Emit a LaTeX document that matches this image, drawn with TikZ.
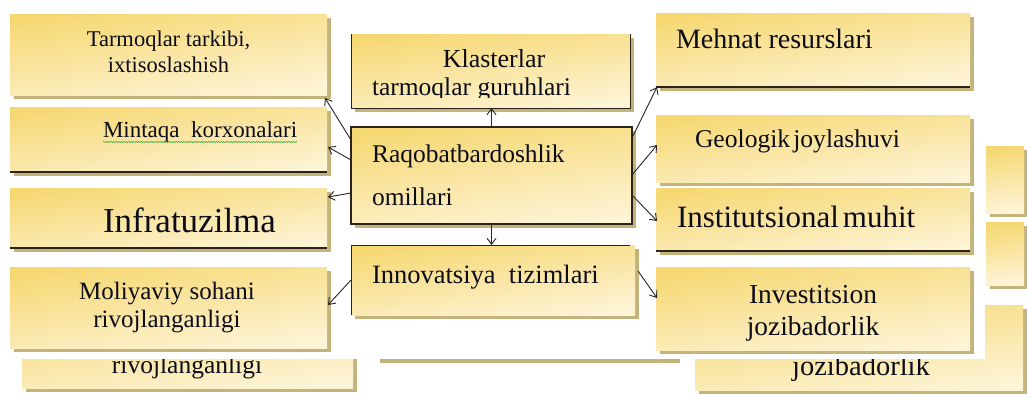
\documentclass[tikz,border=0pt]{standalone}
\usepackage{fontspec}
\setmainfont{Liberation Serif}
\usetikzlibrary{arrows.meta,decorations.pathmorphing,calc,shadows}
\definecolor{gA}{HTML}{F6D873}
\definecolor{cA}{HTML}{FDF4D6}
\definecolor{shd}{HTML}{C4B47C}
\definecolor{edgec}{HTML}{2A2518}
\definecolor{txt}{HTML}{0D0D1A}
\newcommand\myfs[1]{\fontsize{#1}{#1}\selectfont}
\begin{document}
\begin{tikzpicture}[x=1pt,y=-1pt,
  box/.style={anchor=north west, inner sep=0pt, outer sep=0pt, draw=none,
    top color=gA, bottom color=cA, shading angle=8,
    drop shadow={shadow xshift=4pt, shadow yshift=-4pt, fill=shd, opacity=1}},
  lbl/.style={inner sep=0pt, outer sep=0pt, text=txt},
  edgeline/.style={draw=edgec, line width=1.3pt},
  arr/.style={-{Straight Barb[length=6pt,width=9pt]}, line width=0.9pt, draw=black!85}]
\useasboundingbox (0,0) rectangle (1027,394);
\fill[white] (0,0) rectangle (1027,394);
% ---- back layer ----
\node[box, minimum width=331pt, minimum height=88pt] (bl) at (22,300) {};
\node[box, minimum width=328pt, minimum height=85pt] (br) at (695,305) {};
\node[box, minimum width=38pt, minimum height=67pt] (br1) at (986,146) {};
\node[box, minimum width=38pt, minimum height=63pt] (br2) at (986,222) {};
\node[lbl, anchor=base, font=\myfs{25.5}] (bltxt) at (187,373) {rivojlanganligi};
\node[lbl, anchor=base, font=\myfs{28.5}] (brtxt) at (861,375) {jozibadorlik};
\fill[shd] (380,359) rectangle (680,363);
% ---- white overlay ----
\fill[white] (0,0) rectangle (985,359);
% ---- front boxes ----
\node[box, minimum width=317pt, minimum height=81pt] (tar) at (10,14) {};
\node[box, minimum width=317pt, minimum height=65pt] (min) at (10,107) {};
\node[box, minimum width=317pt, minimum height=60pt] (inf) at (10,188) {};
\node[box, minimum width=317pt, minimum height=81pt] (mol) at (10,267) {};
\node[box, minimum width=279pt, minimum height=74pt] (kla) at (351,34) {};
\node[box, minimum width=281pt, minimum height=97pt] (rq) at (351,127) {};
\node[box, minimum width=284pt, minimum height=70pt] (inn) at (351,245) {};
\node[box, minimum width=314pt, minimum height=74pt] (meh) at (656,13) {};
\node[box, minimum width=314pt, minimum height=67pt] (geo) at (656,115) {};
\node[box, minimum width=314pt, minimum height=63pt] (ins) at (656,188) {};
\node[box, minimum width=314pt, minimum height=83pt] (inv) at (656,267) {};
% ---- dark edges ----
\draw[edgeline] (min.south west) -- (min.south east);
\draw[edgeline] (inf.south west) -- (inf.south east);
\draw[edgeline] (meh.south west) -- (meh.south east);
\draw[edgeline] (ins.south west) -- (ins.south east);
\draw[edgeline, line width=1pt] (kla.north west) -- (kla.south west) -- (kla.south east) -- (kla.north east);
\draw[edgeline, line width=1.8pt] (rq.north west) rectangle (rq.south east);
\draw[edgeline, line width=1pt] (inn.south west) -- (inn.north west) -- ($(inn.north east)+(-5,0)$);
% ---- arrows ----
\draw[arr] (rq.north) -- (rq.north |- kla.south);
\draw[arr] (rq.south) -- (rq.south |- inn.north);
\draw[arr] ($(rq.north west)+(0,13)$) -- ($(tar.south east)+(-2,3)$);
\draw[arr] ($(rq.north west)+(0,33)$) -- ($(min.north east)+(1,40)$);
\draw[arr] ($(rq.north west)+(0,66)$) -- ($(inf.north east)+(1,9)$);
\draw[arr] ($(inn.north west)+(0,35)$) -- ($(mol.north east)+(1,38)$);
\draw[arr] ($(rq.north east)+(0,11)$) -- ($(meh.south west)+(1,0)$);
\draw[arr] ($(rq.north east)+(0,48)$) -- ($(geo.north west)+(1,30)$);
\draw[arr] ($(rq.north east)+(0,68)$) -- ($(ins.north west)+(1,33)$);
\draw[arr] ($(inn.north east)+(3,26)$) -- ($(inv.north west)+(1,31)$);
% ---- texts ----
\node[lbl, anchor=base, font=\myfs{22.5}] (t1a) at (168.5,46) {Tarmoqlar tarkibi,};
\node[lbl, anchor=base, font=\myfs{22.5}] (t1b) at (168.5,72) {ixtisoslashish};
\node[lbl, anchor=base west, font=\myfs{23}] (mintxt) at (103,137) {Mintaqa\ \ korxonalari};
\draw[decorate, decoration={snake, amplitude=0.7pt, segment length=2.5pt}, draw=green!55!black!75, line width=0.5pt] ($(mintxt.base west)+(0,5)$) -- ($(mintxt.base east)+(0,5)$);
\node[lbl, anchor=base west, font=\myfs{35}] (inftxt) at (103,232) {Infratuzilma};
\node[lbl, anchor=base, font=\myfs{25}] (m1) at (167,299) {Moliyaviy sohani};
\node[lbl, anchor=base, font=\myfs{25}] (m2) at (167,327) {rivojlanganligi};
\node[lbl, anchor=base, font=\myfs{26}] (k1) at (494,67) {Klasterlar};
\begin{scope}
\clip (kla.north west) rectangle ($(kla.north east)+(0,63)$);
\node[lbl, anchor=base west, font=\myfs{25.5}] (k2) at (372,95) {tarmoqlar guruhlari};
\end{scope}
\node[lbl, anchor=base west, font=\myfs{25.5}] (r1) at (372,162) {Raqobatbardoshlik};
\node[lbl, anchor=base west, font=\myfs{25.5}] (r2) at (372,205) {omillari};
\node[lbl, anchor=base west, font=\myfs{26.5}] (i1) at (372,283) {Innovatsiya\ \ tizimlari};
\node[lbl, anchor=base west, font=\myfs{28}] (h1) at (676,48) {Mehnat resurslari};
\node[lbl, anchor=base west, font=\myfs{25.6}] (g1) at (695,147) {Geologik\hspace{3pt}joylashuvi};
\node[lbl, anchor=base west, font=\myfs{31}] (s1) at (677,227) {Institutsional\hspace{4pt}muhit};
\node[lbl, anchor=base, font=\myfs{27.4}] (v1) at (813,303) {Investitsion};
\node[lbl, anchor=base, font=\myfs{27.4}] (v2) at (813,335) {jozibadorlik};
\end{tikzpicture}
\end{document}
